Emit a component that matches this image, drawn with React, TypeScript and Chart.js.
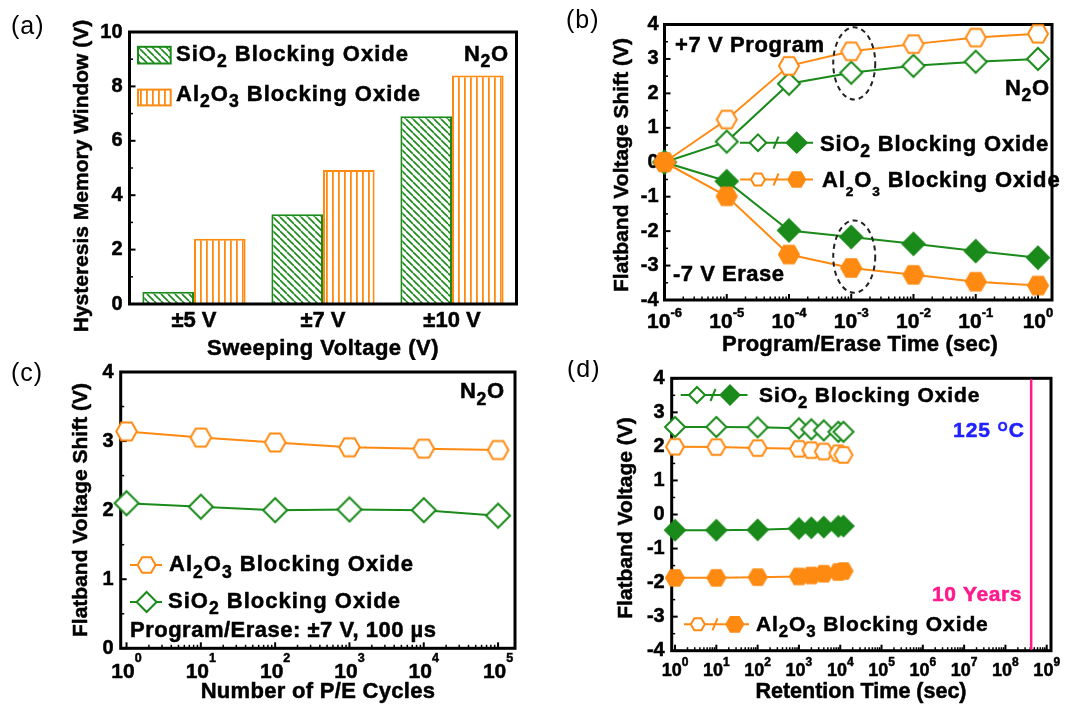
import React, { useEffect, useRef } from "react";
import { Chart, registerables } from "chart.js";

Chart.register(...registerables);

// ---------------- DATA ----------------
// (a) hysteresis memory window vs sweeping voltage
const aCategories = ["±5 V", "±7 V", "±10 V"];
const aSiO2Window = [0.45, 3.3, 6.9];
const aAl2O3Window = [2.4, 4.93, 8.4];

// (b) flatband shift vs program / erase time
const bTimes = [1e-6, 1e-5, 1e-4, 1e-3, 1e-2, 1e-1, 1];
const bSiO2Program = [0, 0.6, 2.28, 2.6, 2.8, 2.92, 3.0];
const bAl2O3Program = [0, 1.24, 2.8, 3.22, 3.43, 3.62, 3.73];
const bSiO2Erase = [0, -0.55, -1.98, -2.17, -2.37, -2.58, -2.77];
const bAl2O3Erase = [0, -0.99, -2.68, -3.07, -3.27, -3.47, -3.58];
const bTickExponents = [-6, -5, -4, -3, -2, -1, 0];
const bHighlightTime = 1e-3;
const bHighlightCenters = [2.87, -2.74];

// (c) endurance
const cCycles = [1, 10, 100, 1000, 10000, 100000];
const cAl2O3 = [3.14, 3.05, 2.98, 2.91, 2.89, 2.87];
const cSiO2 = [2.1, 2.05, 2.0, 2.01, 2.0, 1.92];
const cTickExponents = [0, 1, 2, 3, 4, 5];

// (d) retention at 125 C
const dTimes = [1, 10, 100, 1000, 2000, 4000, 9000, 12000];
const dSiO2Program = [2.57, 2.57, 2.56, 2.53, 2.5, 2.47, 2.43, 2.43];
const dAl2O3Program = [1.99, 1.98, 1.95, 1.93, 1.89, 1.85, 1.8, 1.75];
const dSiO2Erase = [-0.46, -0.46, -0.45, -0.41, -0.39, -0.37, -0.35, -0.34];
const dAl2O3Erase = [-1.86, -1.86, -1.84, -1.82, -1.79, -1.74, -1.69, -1.66];
const dTenYears = 4.2e8;
const dTickExponents = [0, 1, 2, 3, 4, 5, 6, 7, 8, 9];

// ---------------- STYLE HELPERS ----------------
const FAMILY = '"Liberation Sans", Arial, Helvetica, sans-serif';
const GREEN = "#1a8a1a";
const ORANGE = "#ff8a12";
const PINK = "#ff1a8c";
const BLUE = "#2222ff";
const HEAVY = 0.5; // extra stroke to match the heavy bold lettering

type Seg = { t: string; k?: "sub" | "sup" };
type RichOpts = {
  size: number;
  align?: "left" | "center" | "right";
  color?: string;
  ls?: number;
  bold?: boolean;
  subScale?: number;
  subDy?: number;
  supScale?: number;
  supDy?: number;
};

const fontStr = (size: number, bold: boolean) => `${bold ? "bold " : ""}${size}px ${FAMILY}`;

function drawRich(ctx: CanvasRenderingContext2D, segs: Seg[], x: number, yc: number, o: RichOpts) {
  const size = o.size;
  const bold = o.bold !== false;
  const subScale = o.subScale ?? 0.8;
  const supScale = o.supScale ?? 0.62;
  const subDy = o.subDy ?? 0.3;
  const supDy = o.supDy ?? -0.5;
  ctx.save();
  (ctx as any).letterSpacing = `${o.ls ?? 0}px`;
  ctx.textBaseline = "alphabetic";
  ctx.textAlign = "left";
  ctx.fillStyle = o.color ?? "#000";
  ctx.strokeStyle = o.color ?? "#000";
  ctx.lineWidth = HEAVY;
  ctx.lineJoin = "round";
  const parts = segs.map((s) => {
    const sz = s.k === "sub" ? size * subScale : s.k === "sup" ? size * supScale : size;
    ctx.font = fontStr(sz, bold);
    return { s, sz, w: ctx.measureText(s.t).width };
  });
  const total = parts.reduce((a, p) => a + p.w, 0);
  let cx = o.align === "center" ? x - total / 2 : o.align === "right" ? x - total : x;
  const base = yc + 0.358 * size;
  for (const p of parts) {
    ctx.font = fontStr(p.sz, bold);
    const dy = p.s.k === "sub" ? subDy * size : p.s.k === "sup" ? supDy * size : 0;
    ctx.fillText(p.s.t, cx, base + dy);
    if (bold) ctx.strokeText(p.s.t, cx, base + dy);
    cx += p.w;
  }
  ctx.restore();
}

function drawVertical(ctx: CanvasRenderingContext2D, text: string, x: number, y: number, size: number) {
  ctx.save();
  ctx.translate(x, y);
  ctx.rotate(-Math.PI / 2);
  drawRich(ctx, [{ t: text }], 0, 0, { size, align: "center" });
  ctx.restore();
}

type Shape = "diamond" | "hex";
function pathShape(ctx: CanvasRenderingContext2D, shape: Shape, x: number, y: number, r: number) {
  ctx.beginPath();
  if (shape === "diamond") {
    ctx.moveTo(x, y - r);
    ctx.lineTo(x + r, y);
    ctx.lineTo(x, y + r);
    ctx.lineTo(x - r, y);
  } else {
    for (let i = 0; i < 6; i++) {
      const a = (i * Math.PI) / 3;
      const px = x + r * Math.cos(a);
      const py = y + r * Math.sin(a);
      if (i === 0) ctx.moveTo(px, py);
      else ctx.lineTo(px, py);
    }
  }
  ctx.closePath();
}

function drawMarker(ctx: CanvasRenderingContext2D, shape: Shape, x: number, y: number, r: number, color: string, filled: boolean) {
  ctx.save();
  pathShape(ctx, shape, x, y, r);
  ctx.fillStyle = filled ? color : "#fff";
  ctx.fill();
  ctx.lineWidth = 2;
  ctx.lineJoin = "miter";
  ctx.strokeStyle = color;
  ctx.stroke();
  ctx.restore();
}

function markerImage(shape: Shape, r: number, color: string, filled: boolean) {
  const s = Math.ceil(2 * r + 4);
  const c = document.createElement("canvas");
  c.width = s;
  c.height = s;
  drawMarker(c.getContext("2d")!, shape, s / 2, s / 2, r, color, filled);
  return c;
}

function hatch(kind: "diag" | "vert", color: string): CanvasPattern {
  const c = document.createElement("canvas");
  if (kind === "diag") {
    const s = 7;
    c.width = s;
    c.height = s;
    const g = c.getContext("2d")!;
    g.fillStyle = "#fff";
    g.fillRect(0, 0, s, s);
    g.strokeStyle = color;
    g.lineWidth = 1.6;
    g.beginPath();
    for (const k of [-1, 0, 1]) {
      g.moveTo(k * s, 0);
      g.lineTo(k * s + s, s);
    }
    g.stroke();
    return g.createPattern(c, "repeat")!;
  }
  c.width = 6;
  c.height = 4;
  const g = c.getContext("2d")!;
  g.fillStyle = "#fff";
  g.fillRect(0, 0, 6, 4);
  g.fillStyle = color;
  g.fillRect(2, 0, 1.8, 4);
  return g.createPattern(c, "repeat")!;
}

function drawFrame(chart: any) {
  const { ctx, chartArea: a } = chart;
  ctx.save();
  ctx.lineWidth = 3;
  ctx.strokeStyle = "#000";
  ctx.strokeRect(a.left, a.top, a.right - a.left, a.bottom - a.top);
  ctx.restore();
}

function drawYTicks(chart: any) {
  const { ctx, chartArea: a } = chart;
  const ys = chart.scales.y;
  const vals: number[] = ys.ticks.map((t: any) => t.value);
  ctx.save();
  ctx.strokeStyle = "#000";
  for (let i = 0; i < vals.length; i++) {
    const y = ys.getPixelForValue(vals[i]);
    ctx.lineWidth = 2;
    ctx.beginPath();
    ctx.moveTo(a.left, y);
    ctx.lineTo(a.left + 6, y);
    ctx.stroke();
    if (i < vals.length - 1) {
      const ym = ys.getPixelForValue((vals[i] + vals[i + 1]) / 2);
      ctx.lineWidth = 1.5;
      ctx.beginPath();
      ctx.moveTo(a.left, ym);
      ctx.lineTo(a.left + 3.5, ym);
      ctx.stroke();
    }
  }
  ctx.restore();
}

function drawLogXTicks(chart: any, exps: number[]) {
  const { ctx, chartArea: a } = chart;
  const xs = chart.scales.x;
  ctx.save();
  ctx.strokeStyle = "#000";
  for (const e of exps) {
    const v = Math.pow(10, e);
    if (v >= xs.min && v <= xs.max) {
      const x = xs.getPixelForValue(v);
      ctx.lineWidth = 2;
      ctx.beginPath();
      ctx.moveTo(x, a.bottom);
      ctx.lineTo(x, a.bottom - 6);
      ctx.stroke();
    }
    for (let k = 2; k <= 9; k++) {
      const m = k * v;
      if (m < xs.min || m > xs.max) continue;
      const x = xs.getPixelForValue(m);
      ctx.lineWidth = 1.5;
      ctx.beginPath();
      ctx.moveTo(x, a.bottom);
      ctx.lineTo(x, a.bottom - 3.5);
      ctx.stroke();
    }
  }
  ctx.restore();
}

function drawLogXLabels(chart: any, exps: number[], yc: number, size: number, supSize: number, supDy: number) {
  const { ctx } = chart;
  const xs = chart.scales.x;
  for (const e of exps) {
    const x = xs.getPixelForValue(Math.pow(10, e));
    drawRich(ctx, [{ t: "10" }, { t: String(e), k: "sup" }], x, yc, {
      size,
      align: "center",
      supScale: supSize / size,
      supDy,
    });
  }
}

function drawPairLegend(
  ctx: CanvasRenderingContext2D,
  shape: Shape,
  color: string,
  y: number,
  x0: number,
  x1: number,
  xOpen: number,
  xSlash: number,
  xFilled: number,
  rOpen: number,
  rFilled: number
) {
  ctx.save();
  ctx.strokeStyle = color;
  ctx.lineWidth = 2;
  ctx.beginPath();
  ctx.moveTo(x0, y);
  ctx.lineTo(x1, y);
  ctx.stroke();
  ctx.beginPath();
  ctx.moveTo(xSlash - 2.5, y + 6);
  ctx.lineTo(xSlash + 2.5, y - 6);
  ctx.stroke();
  ctx.restore();
  drawMarker(ctx, shape, xOpen, y, rOpen, color, false);
  drawMarker(ctx, shape, xFilled, y, rFilled, color, true);
}

function panelLabel(ctx: CanvasRenderingContext2D, text: string, x: number, y: number) {
  drawRich(ctx, [{ t: text }], x, y, { size: 25, bold: false, ls: 1 });
}

const N2O: Seg[] = [{ t: "N" }, { t: "2", k: "sub" }, { t: "O" }];
const SIO2: Seg[] = [{ t: "SiO" }, { t: "2", k: "sub" }, { t: " Blocking Oxide" }];
const AL2O3: Seg[] = [{ t: "Al" }, { t: "2", k: "sub" }, { t: "O" }, { t: "3", k: "sub" }, { t: " Blocking Oxide" }];

const tickFont = (size: number) => ({ family: FAMILY, size, weight: "bold" as const });
const tickText = { color: "#000", textStrokeColor: "#000", textStrokeWidth: HEAVY };

function lineSet(xs: number[], ys: number[], color: string, img: HTMLCanvasElement) {
  return {
    data: xs.map((x, i) => ({ x, y: ys[i] })),
    borderColor: color,
    borderWidth: 2,
    pointStyle: img,
    pointRadius: 10,
    tension: 0,
    clip: false as const,
  };
}

function scalesFor(xOpts: any, yOpts: any, yWidth: number, xHeight: number) {
  return {
    x: {
      ...xOpts,
      grid: { display: false, drawTicks: false },
      border: { display: false },
      afterFit: (s: any) => {
        s.height = xHeight;
        s.paddingLeft = 0;
        s.paddingRight = 0;
      },
    },
    y: {
      ...yOpts,
      grid: { display: false, drawTicks: false },
      border: { display: false },
      afterFit: (s: any) => {
        s.width = yWidth;
        s.paddingTop = 0;
        s.paddingBottom = 0;
      },
    },
  };
}

const commonOpts = (padTop: number, padRight: number) => ({
  responsive: false,
  animation: false as const,
  devicePixelRatio: 1,
  events: [] as any[],
  layout: { padding: { top: padTop, right: padRight, left: 0, bottom: 0 } },
  plugins: { legend: { display: false }, tooltip: { enabled: false } },
});

// ---------------- CHART BUILDERS ----------------
function buildA(canvas: HTMLCanvasElement) {
  const gPat = hatch("diag", GREEN);
  const oPat = hatch("vert", ORANGE);
  const deco = {
    id: "decoA",
    afterDatasetsDraw(chart: any) {
      drawFrame(chart);
      drawYTicks(chart);
    },
    afterDraw(chart: any) {
      const ctx = chart.ctx as CanvasRenderingContext2D;
      panelLabel(ctx, "(a)", 11, 25);
      const sw = [
        { y0: 46.8, y1: 63.5, pat: gPat, col: GREEN, txt: SIO2, yc: 52.7 },
        { y0: 89.6, y1: 105.4, pat: oPat, col: ORANGE, txt: AL2O3, yc: 92.8 },
      ];
      for (const s of sw) {
        ctx.save();
        ctx.fillStyle = s.pat;
        ctx.fillRect(138, s.y0, 32.7, s.y1 - s.y0);
        ctx.strokeStyle = s.col;
        ctx.lineWidth = 2;
        ctx.strokeRect(138, s.y0, 32.7, s.y1 - s.y0);
        ctx.restore();
        drawRich(ctx, s.txt, 176, s.yc, { size: 22, ls: 1 });
      }
      drawRich(ctx, N2O, 464, 52.7, { size: 22, ls: 0.7 });
      drawVertical(ctx, "Hysteresis Memory Window (V)", 80.5, 176, 21);
      drawRich(ctx, [{ t: "Sweeping Voltage (V)" }], 323, 347.5, { size: 22, ls: 0.5, align: "center" });
    },
  };
  return new Chart(canvas, {
    type: "bar",
    data: {
      labels: aCategories,
      datasets: [
        { data: aSiO2Window, backgroundColor: gPat, borderColor: GREEN, borderWidth: 2, categoryPercentage: 0.8, barPercentage: 1 },
        { data: aAl2O3Window, backgroundColor: oPat, borderColor: ORANGE, borderWidth: 2, categoryPercentage: 0.8, barPercentage: 1 },
      ],
    },
    options: {
      ...commonOpts(32, 13.5),
      scales: scalesFor(
        { ticks: { font: tickFont(22), ...tickText, padding: 4, maxRotation: 0, autoSkip: false } },
        { min: 0, max: 10, ticks: { stepSize: 2, font: tickFont(20), ...tickText, padding: 7 } },
        129.5,
        56
      ),
    } as any,
    plugins: [deco],
  });
}

function buildB(canvas: HTMLCanvasElement) {
  const deco = {
    id: "decoB",
    beforeDatasetsDraw(chart: any) {
      drawFrame(chart);
      drawYTicks(chart);
      drawLogXTicks(chart, bTickExponents);
    },
    afterDatasetsDraw(chart: any) {
      const ctx = chart.ctx as CanvasRenderingContext2D;
      const xs = chart.scales.x;
      const ys = chart.scales.y;
      const cx = xs.getPixelForValue(bHighlightTime) + 3;
      ctx.save();
      ctx.setLineDash([5, 4]);
      ctx.lineWidth = 2;
      ctx.strokeStyle = "#222";
      for (const c of bHighlightCenters) {
        const cy = ys.getPixelForValue(c);
        const ry = Math.abs(ys.getPixelForValue(c + 1.05) - cy);
        ctx.beginPath();
        ctx.ellipse(cx, cy, 21, ry, 0, 0, Math.PI * 2);
        ctx.stroke();
      }
      ctx.restore();
    },
    afterDraw(chart: any) {
      const ctx = chart.ctx as CanvasRenderingContext2D;
      panelLabel(ctx, "(b)", 36, 19.5);
      drawRich(ctx, [{ t: "+7 V Program" }], 145, 44.6, { size: 22, ls: 0.6 });
      drawRich(ctx, [{ t: "-7 V Erase" }], 143, 273.5, { size: 22, ls: 0.5 });
      drawRich(ctx, N2O, 475, 87, { size: 22, ls: 0.7 });
      drawPairLegend(ctx, "diamond", GREEN, 142.7, 210, 283, 228, 246, 266.7, 8.3, 10);
      drawRich(ctx, SIO2, 290, 142.7, { size: 22, ls: 0.8 });
      drawPairLegend(ctx, "hex", ORANGE, 179.5, 210, 283, 228, 246, 266.7, 7, 8.5);
      drawRich(ctx, AL2O3, 292, 178.9, { size: 22, ls: 0.9, subScale: 0.62, subDy: 0.42 });
      drawLogXLabels(chart, bTickExponents, 320.8, 21, 13, -0.53);
      drawVertical(ctx, "Flatband Voltage Shift (V)", 90, 165, 21);
      drawRich(ctx, [{ t: "Program/Erase Time (sec)" }], 330, 343.5, { size: 22, ls: 0.2, align: "center" });
    },
  };
  return new Chart(canvas, {
    type: "line",
    data: {
      datasets: [
        lineSet(bTimes, bAl2O3Erase, ORANGE, markerImage("hex", 10, ORANGE, true)),
        lineSet(bTimes, bAl2O3Program, ORANGE, markerImage("hex", 10, ORANGE, false)),
        lineSet(bTimes, bSiO2Erase, GREEN, markerImage("diamond", 11, GREEN, true)),
        lineSet(bTimes, bSiO2Program, GREEN, markerImage("diamond", 11, GREEN, false)),
      ],
    },
    options: {
      ...commonOpts(24.5, 15),
      scales: scalesFor(
        { type: "logarithmic", min: 1e-6, max: 1.68, ticks: { display: false } },
        { min: -4, max: 4, ticks: { stepSize: 1, font: tickFont(20), ...tickText, padding: 6 } },
        134.5,
        60
      ),
    } as any,
    plugins: [deco],
  });
}

function buildC(canvas: HTMLCanvasElement) {
  const deco = {
    id: "decoC",
    beforeDatasetsDraw(chart: any) {
      drawFrame(chart);
      drawYTicks(chart);
      drawLogXTicks(chart, cTickExponents);
    },
    afterDraw(chart: any) {
      const ctx = chart.ctx as CanvasRenderingContext2D;
      panelLabel(ctx, "(c)", 11, 12);
      drawRich(ctx, N2O, 460, 30.5, { size: 22, ls: 0.7 });
      ctx.save();
      ctx.lineWidth = 2;
      ctx.strokeStyle = ORANGE;
      ctx.beginPath();
      ctx.moveTo(130, 205);
      ctx.lineTo(162, 205);
      ctx.stroke();
      ctx.strokeStyle = GREEN;
      ctx.beginPath();
      ctx.moveTo(130, 242);
      ctx.lineTo(162, 242);
      ctx.stroke();
      ctx.restore();
      drawMarker(ctx, "hex", 146.6, 205, 9, ORANGE, false);
      drawMarker(ctx, "diamond", 146.6, 242, 10, GREEN, false);
      drawRich(ctx, AL2O3, 169, 203.3, { size: 22, ls: 1 });
      drawRich(ctx, SIO2, 168, 240, { size: 22, ls: 1 });
      drawRich(ctx, [{ t: "Program/Erase: ±7 V, 100 µs" }], 130, 269, { size: 22, ls: 0.5 });
      drawLogXLabels(chart, cTickExponents, 310, 21, 12.5, -0.72);
      drawVertical(ctx, "Flatband Voltage Shift (V)", 79, 150, 21);
      drawRich(ctx, [{ t: "Number of P/E Cycles" }], 318, 330.5, { size: 22, ls: 0.3, align: "center" });
    },
  };
  return new Chart(canvas, {
    type: "line",
    data: {
      datasets: [
        lineSet(cCycles, cAl2O3, ORANGE, markerImage("hex", 10.3, ORANGE, false)),
        lineSet(cCycles, cSiO2, GREEN, markerImage("diamond", 12, GREEN, false)),
      ],
    },
    options: {
      ...commonOpts(10.7, 15),
      scales: scalesFor(
        { type: "logarithmic", min: 0.835, max: 1.69e5, ticks: { display: false } },
        { min: 0, max: 4, ticks: { stepSize: 1, font: tickFont(20), ...tickText, padding: 7 } },
        120.7,
        57.7
      ),
    } as any,
    plugins: [deco],
  });
}

function buildD(canvas: HTMLCanvasElement) {
  const deco = {
    id: "decoD",
    beforeDatasetsDraw(chart: any) {
      drawFrame(chart);
      drawYTicks(chart);
      drawLogXTicks(chart, dTickExponents);
      const { ctx, chartArea: a } = chart;
      const x = chart.scales.x.getPixelForValue(dTenYears);
      ctx.save();
      ctx.strokeStyle = PINK;
      ctx.lineWidth = 2.5;
      ctx.beginPath();
      ctx.moveTo(x, a.top + 1);
      ctx.lineTo(x, a.bottom - 1);
      ctx.stroke();
      ctx.restore();
    },
    afterDraw(chart: any) {
      const ctx = chart.ctx as CanvasRenderingContext2D;
      panelLabel(ctx, "(d)", 37, 8);
      drawPairLegend(ctx, "diamond", GREEN, 35, 150.7, 217.5, 167, 183, 200, 8, 9.5);
      drawRich(ctx, SIO2, 229, 34, { size: 21, ls: 0.9 });
      drawPairLegend(ctx, "hex", ORANGE, 264.3, 154, 219, 167.8, 185, 204.8, 7, 8.5);
      drawRich(ctx, AL2O3, 226, 263.5, { size: 21, ls: 0.9 });
      drawRich(ctx, [{ t: "125 " }, { t: "O", k: "sup" }, { t: "C" }], 423, 69.5, {
        size: 21,
        ls: 1,
        color: BLUE,
        supScale: 0.6,
        supDy: -0.3,
      });
      drawRich(ctx, [{ t: "10 Years" }], 402, 233.3, { size: 21, ls: 0.6, color: PINK });
      drawLogXLabels(chart, dTickExponents, 310, 18, 12, -0.59);
      drawVertical(ctx, "Flatband Voltage (V)", 94, 158, 21);
      drawRich(ctx, [{ t: "Retention Time (sec)" }], 331, 330.5, { size: 21.5, align: "center" });
    },
  };
  return new Chart(canvas, {
    type: "line",
    data: {
      datasets: [
        lineSet(dTimes, dAl2O3Erase, ORANGE, markerImage("hex", 9, ORANGE, true)),
        lineSet(dTimes, dAl2O3Program, ORANGE, markerImage("hex", 9, ORANGE, false)),
        lineSet(dTimes, dSiO2Erase, GREEN, markerImage("diamond", 10, GREEN, true)),
        lineSet(dTimes, dSiO2Program, GREEN, markerImage("diamond", 10, GREEN, false)),
      ],
    },
    options: {
      ...commonOpts(18.3, 16),
      scales: scalesFor(
        { type: "logarithmic", min: 0.83, max: 1.27e9, ticks: { display: false } },
        { min: -4, max: 4, ticks: { stepSize: 1, font: tickFont(20), ...tickText, padding: 7 } },
        141.7,
        55.3
      ),
    } as any,
    plugins: [deco],
  });
}

// ---------------- COMPONENTS ----------------
function ChartCanvas(props: { left: number; top: number; width: number; height: number; build: (c: HTMLCanvasElement) => Chart }) {
  const ref = useRef<HTMLCanvasElement>(null);
  useEffect(() => {
    const chart = props.build(ref.current!);
    return () => chart.destroy();
  }, []);
  return (
    <canvas
      ref={ref}
      width={props.width}
      height={props.height}
      style={{ position: "absolute", left: props.left, top: props.top, width: props.width, height: props.height }}
    />
  );
}

export default function App() {
  return (
    <div style={{ position: "absolute", left: 0, top: 0, width: 1067, height: 706, background: "#fff", overflow: "hidden" }}>
      <ChartCanvas left={0} top={0} width={530} height={360} build={buildA} />
      <ChartCanvas left={530} top={0} width={537} height={360} build={buildB} />
      <ChartCanvas left={0} top={360} width={530} height={346} build={buildC} />
      <ChartCanvas left={530} top={360} width={537} height={346} build={buildD} />
    </div>
  );
}
